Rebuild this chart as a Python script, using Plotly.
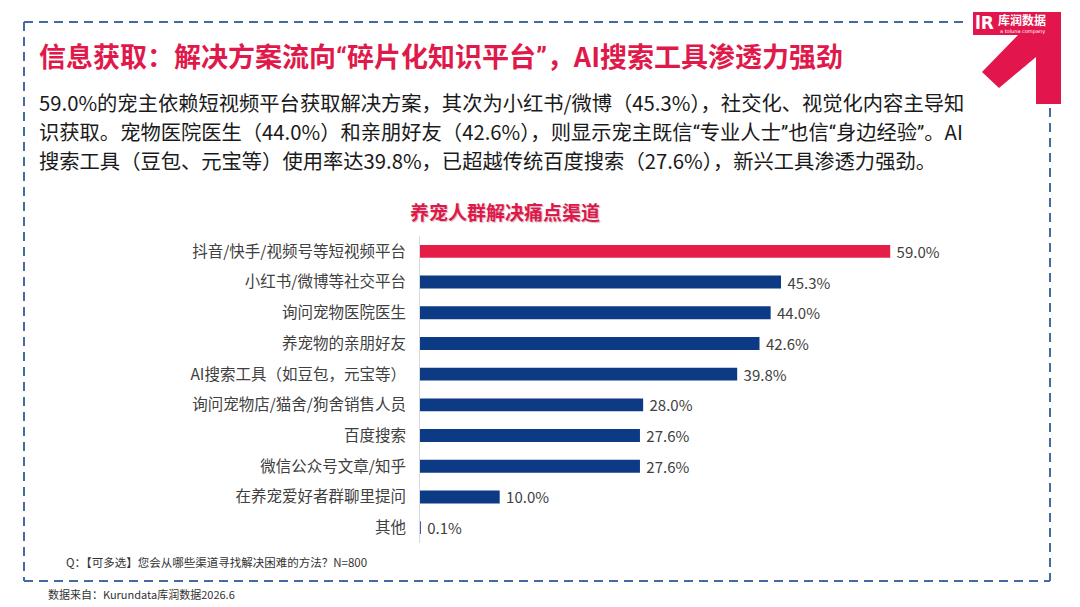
import plotly.graph_objects as go

categories = [
    "抖音/快手/视频号等短视频平台",
    "小红书/微博等社交平台",
    "询问宠物医院医生",
    "养宠物的亲朋好友",
    "AI搜索工具（如豆包，元宝等）",
    "询问宠物店/猫舍/狗舍销售人员",
    "百度搜索",
    "微信公众号文章/知乎",
    "在养宠爱好者群聊里提问",
    "其他",
]
values = [59.0, 45.3, 44.0, 42.6, 39.8, 28.0, 27.6, 27.6, 10.0, 0.1]

RED = "#E41E46"
NAVY = "#0C3A85"
TITLE_RED = "#E0194B"
BORDER = "#4469A3"
FONT = "Noto Sans CJK SC"

W, H = 1080, 607
def px(x):
    return x / W
def py(y):
    return 1 - y / H

def q(s):
    # narrow Latin-style curly quotes like the reference
    return (s.replace("“", '<span style="font-family:Roboto">“</span>')
             .replace("”", '<span style="font-family:Roboto">”</span>'))

bar_colors = [RED] + [NAVY] * (len(values) - 1)

fig = go.Figure()
fig.add_trace(go.Bar(
    x=values,
    y=categories,
    orientation="h",
    marker=dict(color=bar_colors, line=dict(width=0)),
    width=0.42,
    text=[f"{v:.1f}%" for v in values],
    texttemplate=" %{text}",
    textposition="outside",
    constraintext="none",
    textfont=dict(family=FONT, size=15, color="#404040"),
    cliponaxis=False,
    hoverinfo="skip",
))

fig.update_layout(
    width=W, height=H,
    margin=dict(l=0, r=0, t=0, b=0),
    paper_bgcolor="white",
    plot_bgcolor="white",
    showlegend=False,
    font=dict(family=FONT),
    xaxis=dict(
        domain=[px(420), px(1050)],
        range=[0, 79.05],
        visible=False,
        fixedrange=True,
    ),
    yaxis=dict(
        domain=[py(543), py(236)],
        autorange="reversed",
        showline=True,
        linecolor="#D9D9D9",
        linewidth=1,
        showgrid=False,
        ticks="",
        ticklabelstandoff=10,
        tickfont=dict(family=FONT, size=15.5, color="#404040"),
        fixedrange=True,
    ),
)

annotations = []
# Main title
annotations.append(dict(
    x=px(37), y=py(55), xref="paper", yref="paper", xanchor="left", yanchor="middle",
    text="<b>" + q("信息获取：解决方案流向“碎片化知识平台”，AI搜索工具渗透力强劲") + "</b>",
    showarrow=False, font=dict(family=FONT, size=27, color=TITLE_RED),
))
para = [
    "59.0%的宠主依赖短视频平台获取解决方案，其次为小红书/微博（45.3%），社交化、视觉化内容主导知",
    "识获取。宠物医院医生（44.0%）和亲朋好友（42.6%），则显示宠主既信“专业人士”也信“身边经验”。AI",
    "搜索工具（豆包、元宝等）使用率达39.8%，已超越传统百度搜索（27.6%），新兴工具渗透力强劲。",
]
for i, line in enumerate(para):
    annotations.append(dict(
        x=px(37), y=py(102 + i * 29), xref="paper", yref="paper", xanchor="left", yanchor="middle",
        text=q(line), showarrow=False, font=dict(family=FONT, size=20.3, color="#1A1A1A"),
    ))
# Chart title
annotations.append(dict(
    x=px(505), y=py(211), xref="paper", yref="paper", xanchor="center", yanchor="middle",
    text="<b>养宠人群解决痛点渠道</b>", showarrow=False,
    font=dict(family=FONT, size=19, color=TITLE_RED, shadow="1px 1px 1px rgba(120,60,90,0.35)"),
))
# Footnotes
annotations.append(dict(
    x=px(64), y=py(562), xref="paper", yref="paper", xanchor="left", yanchor="middle",
    text="Q：【可多选】您会从哪些渠道寻找解决困难的方法？N=800", showarrow=False,
    font=dict(family=FONT, size=11.5, color="#333333"),
))
annotations.append(dict(
    x=px(46), y=py(594), xref="paper", yref="paper", xanchor="left", yanchor="middle",
    text="数据来自：Kurundata库润数据2026.6", showarrow=False,
    font=dict(family=FONT, size=11, color="#333333"),
))
# Logo texts
annotations.append(dict(
    x=px(1022), y=py(20), xref="paper", yref="paper", xanchor="center", yanchor="middle",
    text="<b>库润数据</b>", showarrow=False, font=dict(family=FONT, size=12, color="white"),
))
annotations.append(dict(
    x=px(1022), y=py(31), xref="paper", yref="paper", xanchor="center", yanchor="middle",
    text="a toluna company", showarrow=False, font=dict(family="DejaVu Sans", size=5, color="white"),
))
annotations.append(dict(
    x=px(984), y=py(23), xref="paper", yref="paper", xanchor="center", yanchor="middle",
    text="<b>lR</b>", showarrow=False, font=dict(family="DejaVu Sans", size=17, color="white"),
))
fig.update_layout(annotations=annotations)

shapes = []
dash = "9px,6px"
border_lines = [
    (24, 22, 966, 22),
    (24, 22, 24, 581),
    (24, 581, 1050, 581),
    (1050, 108, 1050, 581),
]
for x0, y0, x1, y1 in border_lines:
    shapes.append(dict(
        type="line", xref="paper", yref="paper",
        x0=px(x0), y0=py(y0), x1=px(x1), y1=py(y1),
        line=dict(color=BORDER, width=2, dash=dash),
    ))
# Logo arrow shape (pixel coords converted to paper)
pts = [(973, 12), (1061, 12), (1061, 104), (1036, 104), (1036, 57), (999, 88), (982, 72), (1018, 35), (973, 35)]
path = "M " + " L ".join(f"{px(x)},{py(y)}" for x, y in pts) + " Z"
shapes.append(dict(
    type="path", xref="paper", yref="paper", path=path,
    fillcolor="#E2154C", line=dict(width=0), layer="above",
))
fig.update_layout(shapes=shapes)

fig.write_html(
    "out.html",
    config={"displayModeBar": False, "staticPlot": True},
    post_script="document.body.style.margin='0';document.body.style.overflow='hidden';",
)
